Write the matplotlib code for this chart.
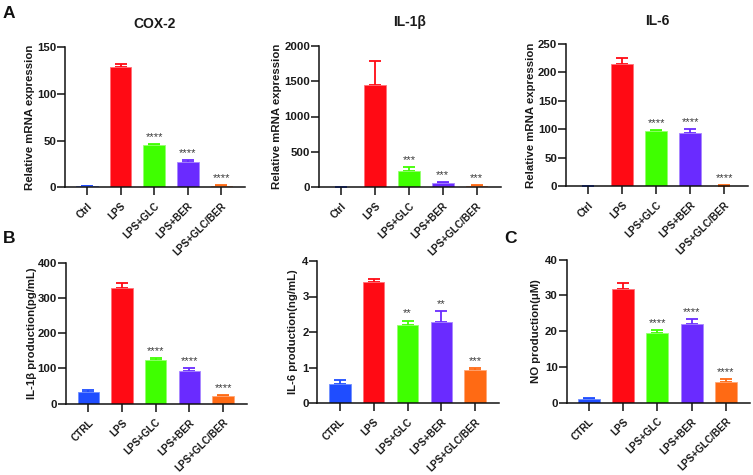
"""Bar panels of mRNA expression and cytokine production by treatment group."""

from __future__ import annotations

import matplotlib

matplotlib.use("Agg")
import matplotlib.pyplot as plt

OUTPUT_PATH = "out.png"
FIG_W, FIG_H = 753, 475

BAR_COLORS = ["#1f4dff", "#ff0a14", "#3fff00", "#6a2bff", "#ff6a14"]
EDGE_COLORS = ["#6f8fff", "#ff7078", "#95ff70", "#a786ff", "#ffa878"]

GROUPS_TOP = ["Ctrl", "LPS", "LPS+GLC", "LPS+BER", "LPS+GLC/BER"]
GROUPS_BOTTOM = ["CTRL", "LPS", "LPS+GLC", "LPS+BER", "LPS+GLC/BER"]

COX2_MEAN = [1.0, 128.5, 45.0, 27.5, 1.5]
COX2_TOP = [1.8, 131.5, 46.0, 29.5, 2.2]
COX2_STARS = ["", "", "****", "****", "****"]
COX2_TICKS = [0, 50, 100, 150]

IL1B_MEAN = [1, 1440, 230, 60, 15]
IL1B_TOP = [1.5, 1790, 285, 78, 33]
IL1B_STARS = ["", "", "***", "***", "***"]
IL1B_TICKS = [0, 500, 1000, 1500, 2000]

IL6_MEAN = [0.2, 215, 97, 94, 1]
IL6_TOP = [0.3, 226, 99.5, 100, 2.5]
IL6_STARS = ["", "", "****", "****", "****"]
IL6_TICKS = [0, 50, 100, 150, 200, 250]

IL1B_PROD_MEAN = [33, 327, 125, 93, 21]
IL1B_PROD_TOP = [39, 342, 129, 100, 24]
IL1B_PROD_STARS = ["", "", "****", "****", "****"]
IL1B_PROD_TICKS = [0, 100, 200, 300, 400]

IL6_PROD_MEAN = [0.53, 3.4, 2.2, 2.27, 0.92]
IL6_PROD_TOP = [0.65, 3.48, 2.32, 2.58, 0.98]
IL6_PROD_STARS = ["", "", "**", "**", "***"]
IL6_PROD_TICKS = [0, 1, 2, 3, 4]

NO_MEAN = [0.9, 31.7, 19.4, 22.0, 5.7]
NO_TOP = [1.4, 33.4, 20.2, 23.3, 6.5]
NO_STARS = ["", "", "****", "****", "****"]
NO_TICKS = [0, 10, 20, 30, 40]

plt.rcParams["font.family"] = ["Liberation Sans", "DejaVu Sans"]
plt.rcParams["font.weight"] = "bold"


def add_panel(fig, box, groups, mean, top, stars, ticks, ylabel, title, label_x):
    left, top_px, right, bottom, first_center, step = box
    ax = fig.add_axes(
        [
            left / FIG_W,
            1 - bottom / FIG_H,
            (right - left) / FIG_W,
            (bottom - top_px) / FIG_H,
        ]
    )
    ax.patch.set_visible(False)
    x_pos = list(range(len(groups)))

    for x, m, t, color, edge, star in zip(x_pos, mean, top, BAR_COLORS, EDGE_COLORS, stars):
        ax.bar(x, m, width=0.64, color=color, edgecolor=edge, linewidth=0.6, zorder=2)
        ax.errorbar(
            x,
            m,
            yerr=[[0], [t - m]],
            color=color,
            elinewidth=1.3,
            capsize=4.4,
            capthick=1.3,
            zorder=1,
        )
        if star:
            ax.annotate(
                star,
                (x, t),
                xytext=(0, 1.5),
                textcoords="offset points",
                ha="center",
                va="bottom",
                fontsize=8,
                fontweight="normal",
                color="#3a3a3a",
            )

    ax.set_xlim((left - first_center) / step, (right - first_center) / step)
    ax.set_ylim(ticks[0], ticks[-1])
    ax.set_yticks(ticks)
    ax.set_xticks(x_pos)
    ax.set_xticklabels(groups, rotation=45, ha="right", rotation_mode="anchor")
    ax.tick_params(axis="both", length=5.8, width=1.1, color="#111111", labelcolor="#1a1a1a")
    ax.tick_params(axis="y", labelsize=8.2, pad=0.5)
    ax.tick_params(axis="x", labelsize=7.2, pad=4)
    ax.set_ylabel(ylabel, fontsize=8.2, fontweight="bold", color="#1a1a1a")
    # ylabel centre is pinned in pixels so it does not depend on tick label width
    ax.yaxis.set_label_coords((label_x - left) / (right - left), 0.5)
    if title:
        ax.set_title(title, fontsize=10, fontweight="bold", color="#1a1a1a", pad=14)

    for spine in ["top", "right"]:
        ax.spines[spine].set_visible(False)
    for spine in ["left", "bottom"]:
        ax.spines[spine].set_linewidth(1.1)
        ax.spines[spine].set_color("#111111")
    return ax


def main() -> int:
    fig = plt.figure(figsize=(FIG_W / 100, FIG_H / 100), dpi=100, facecolor="white")

    add_panel(fig, (65, 47, 245, 187.3, 87, 33.6), GROUPS_TOP, COX2_MEAN, COX2_TOP, COX2_STARS,
              COX2_TICKS, "Relative mRNA expression", "COX-2", 35)
    add_panel(fig, (319, 45.7, 500.7, 187.3, 341.3, 33.8), GROUPS_TOP, IL1B_MEAN, IL1B_TOP, IL1B_STARS,
              IL1B_TICKS, "Relative mRNA expression", "IL-1β", 282.5)
    add_panel(fig, (566, 44, 748, 186.3, 588.3, 34), GROUPS_TOP, IL6_MEAN, IL6_TOP, IL6_STARS,
              IL6_TICKS, "Relative mRNA expression", "IL-6", 536)
    add_panel(fig, (65.7, 262.7, 246.7, 403.7, 88.3, 33.7), GROUPS_BOTTOM, IL1B_PROD_MEAN, IL1B_PROD_TOP,
              IL1B_PROD_STARS, IL1B_PROD_TICKS, "IL-1β production(pg/mL)", "", 37)
    add_panel(fig, (317.3, 261, 499, 403, 339.7, 33.9), GROUPS_BOTTOM, IL6_PROD_MEAN, IL6_PROD_TOP,
              IL6_PROD_STARS, IL6_PROD_TICKS, "IL-6 production(ng/mL)", "", 298)
    add_panel(fig, (566.7, 259.7, 750, 402.7, 589, 34.2), GROUPS_BOTTOM, NO_MEAN, NO_TOP,
              NO_STARS, NO_TICKS, "NO production(μM)", "", 541)

    for letter, x, y in [("A", 3, 14), ("B", 3, 238), ("C", 504, 238)]:
        fig.text(x / FIG_W, 1 - y / FIG_H, letter, fontsize=12.5, fontweight="bold", color="#111111", va="center")

    fig.savefig(OUTPUT_PATH, dpi=100, facecolor="white")
    plt.close(fig)
    return 0


if __name__ == "__main__":
    raise SystemExit(main())
